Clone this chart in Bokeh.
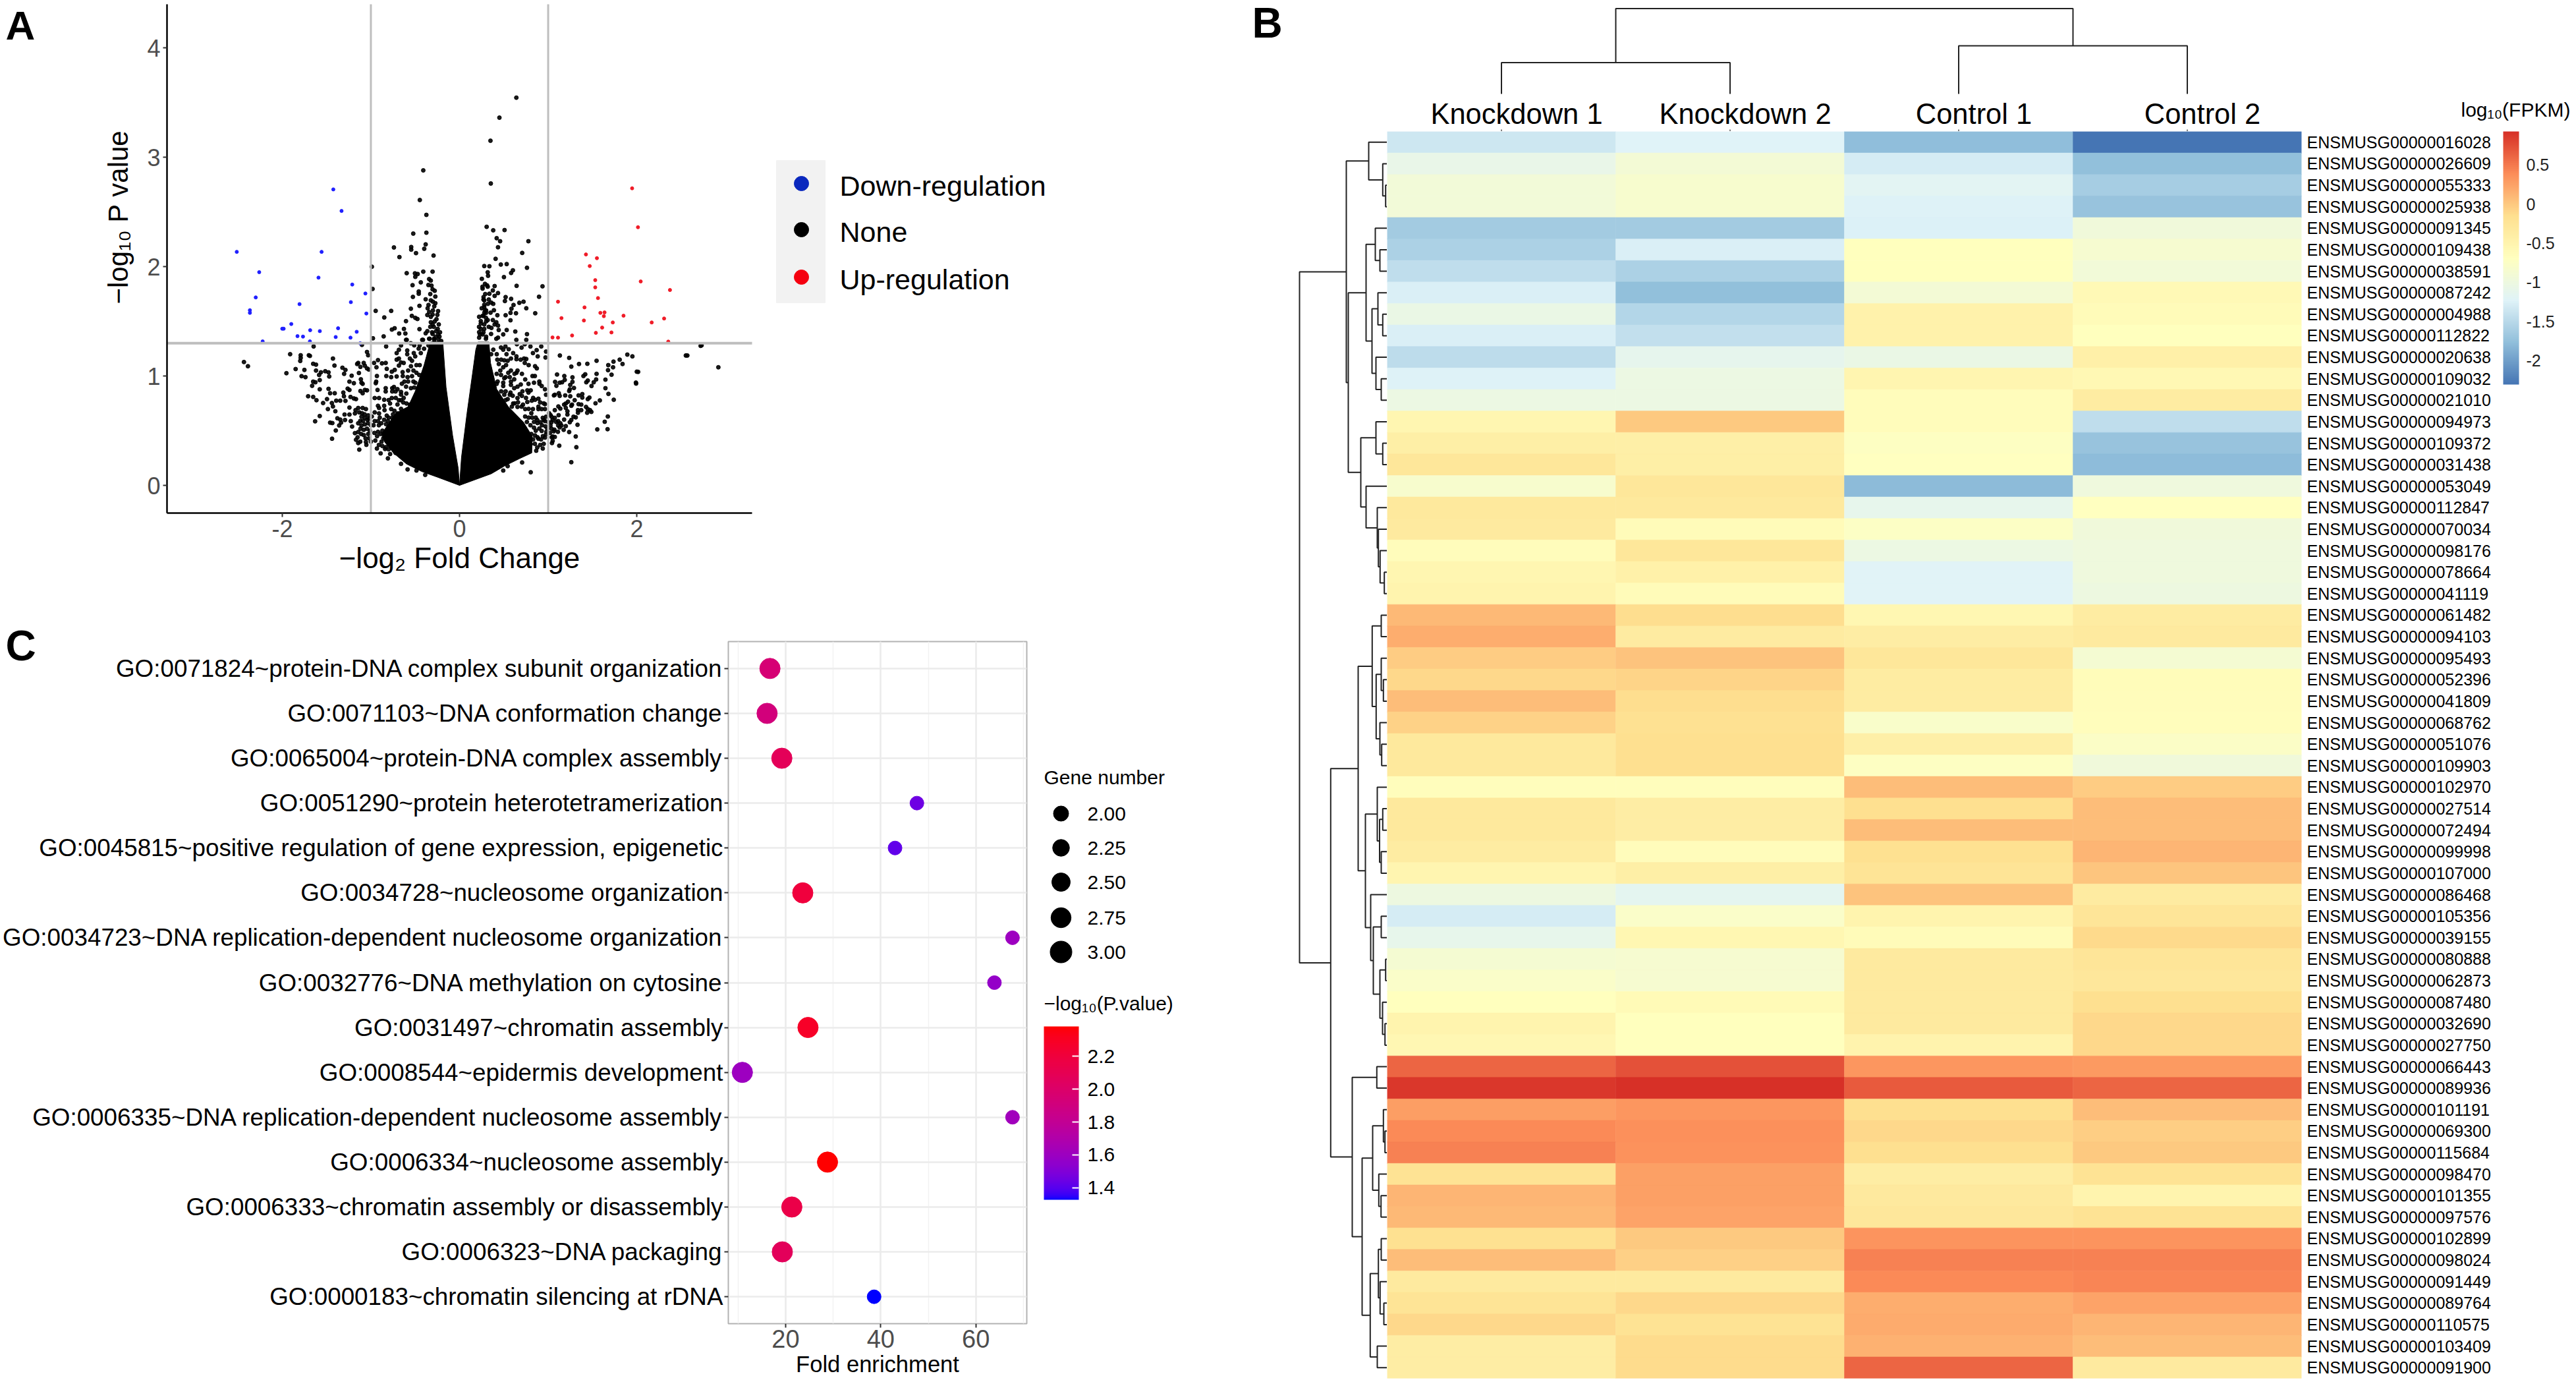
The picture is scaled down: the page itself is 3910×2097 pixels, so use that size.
import math
from bokeh.plotting import figure
from bokeh.layouts import row, column
from bokeh.models import (Range1d, FactorRange, Title, ColorBar, LinearColorMapper, FixedTicker,
                          SingleIntervalTicker, ColumnDataSource)
from bokeh.transform import linear_cmap
from bokeh.core.properties import value
from bokeh.embed import file_html
from bokeh.resources import INLINE

FONT = "Liberation Sans"

# ---------- Panel A: volcano ----------
down_points = [(-1.424,2.707),(-1.331,2.51),(-2.513,2.136),(-1.556,2.136),(-2.26,1.95),(-1.591,1.9),(-1.21,1.837),(-1.062,1.755),
 (-2.299,1.719),(-1.805,1.658),(-1.226,1.676),(-2.365,1.602),(-2.365,1.578),(-1.051,1.572),(-1.898,1.476),(-2.0,1.433),(-1.984,1.433),
 (-1.685,1.419),(-1.576,1.411),(-1.37,1.437),(-1.16,1.405),(-1.828,1.365),(-1.766,1.361),(-1.397,1.357),(-1.23,1.351),(-2.221,1.317),
 (-1.688,1.317),(-1.121,1.30)]
up_points = [(1.947,2.717),(2.013,2.361),(1.426,2.112),(1.55,2.078),(1.469,2.006),(1.531,1.877),(2.044,1.865),(1.531,1.811),(2.374,1.787),
 (1.562,1.713),(1.111,1.68),(1.41,1.628),(1.589,1.578),(1.636,1.582),(1.628,1.548),(1.85,1.552),(1.15,1.53),(1.403,1.508),(2.308,1.526),
 (2.168,1.49),(1.729,1.49),(1.609,1.443),(1.538,1.395),(1.714,1.399),(1.27,1.371),(1.049,1.353),(1.111,1.351),(2.355,1.315)]
none_upper = [(0.641,3.546),(0.45,3.363),(0.349,3.152),(-0.409,2.881),(0.353,2.761),(-0.448,2.61),(-0.374,2.474),(0.306,2.365),(0.38,2.333),
 (0.508,2.335),(-0.374,2.311),(-0.522,2.303),(0.419,2.261),(0.458,2.233),(0.777,2.233),(-0.382,2.204),(-0.74,2.176),(-0.545,2.18),(-0.545,2.156),
 (-0.398,2.164),(0.434,2.178),(-0.491,2.124),(0.707,2.126),(-0.293,2.102),(-0.678,2.088),(0.407,2.072),(-0.989,2.0),(0.279,2.006),(0.337,2.004),
 (0.466,2.02),(0.532,2.024),(0.761,1.99),(-0.596,1.941),(-0.503,1.939),(-0.472,1.933),(-0.409,1.955),(-0.304,1.955),(-0.499,1.907),(0.602,1.967),
 (0.582,1.943),(0.318,1.949),(0.322,1.917),(0.501,1.905),(0.252,1.889),(-0.343,1.887),(-0.437,1.857),(-0.324,1.873),(-0.53,1.831),(-0.351,1.833),
 (-0.316,1.827),(0.287,1.843),(0.259,1.817),(0.318,1.817),(0.396,1.823),(0.644,1.825),(0.936,1.821),(-0.981,1.797),(-0.304,1.793),(-0.46,1.773),
 (-0.46,1.753),(0.376,1.783),(0.337,1.753),(0.434,1.759),(0.396,1.733),(-0.526,1.724),(-0.273,1.727),(0.271,1.722),(0.52,1.722),(0.897,1.725),
 (-0.382,1.702),(-0.324,1.692),(0.582,1.706),(0.279,1.692),(0.512,1.686),(0.356,1.672),(0.675,1.67),(0.722,1.68),(-0.273,1.666),(-0.452,1.642),
 (-0.285,1.638),(0.279,1.652),(0.609,1.65),(0.279,1.632),(-0.549,1.616),(0.287,1.606),(0.586,1.616),(0.753,1.62),(-0.946,1.596),(-0.771,1.596),
 (-0.242,1.594),(-0.343,1.586),(0.388,1.602),(0.298,1.578),(0.637,1.574),(0.854,1.574),(0.575,1.578),(-0.363,1.558),(-0.304,1.562),(-0.324,1.542),
 (0.427,1.556),(0.52,1.556),(-0.538,1.55),(-0.849,1.536),(0.271,1.552),(0.221,1.542),(0.298,1.532),(-0.499,1.532),(-0.475,1.522),(-0.324,1.492),
 (-0.304,1.472),(-0.234,1.472),(0.24,1.502),(0.318,1.512),(0.376,1.512),(0.415,1.492),(0.396,1.472),(0.575,1.51),(-0.604,1.502),(0.279,1.472),
 (0.434,1.462),(-0.732,1.437),(-0.763,1.425),(-0.627,1.431),(-0.452,1.429),(-0.246,1.431),(-0.265,1.411),(-0.363,1.411),(0.24,1.431),(0.279,1.431),
 (0.442,1.421),(0.532,1.421),(0.629,1.407),(-0.681,1.389),(-0.611,1.389),(-0.382,1.391),(-0.304,1.385),(0.221,1.401),(0.259,1.381),(0.356,1.385),
 (0.493,1.381),(0.761,1.383),(-0.856,1.363),(-0.977,1.345),(-0.596,1.331),(-0.421,1.331),(-0.226,1.361),(-0.343,1.341),(-0.285,1.331),(0.221,1.351),
 (0.298,1.341),(0.415,1.341),(0.641,1.331),(0.753,1.331),(0.434,1.351),(-0.207,1.321),(2.72,1.276),(2.57,1.188),
 (-0.33,1.45),(-0.28,1.5),(-0.3,1.6),(-0.27,1.36),(-0.31,1.4),(-0.24,1.38),(-0.3,1.68),(-0.35,1.65),(-0.28,1.78),(-0.33,1.75),(-0.36,1.62),(-0.26,1.52),
 (-0.25,1.56),(-0.29,1.45),(-0.22,1.4),(0.22,1.45),(0.24,1.48),(0.26,1.55),(0.25,1.62),(0.27,1.7),(0.29,1.75),(0.3,1.6),(0.32,1.66),(0.28,1.58),(0.23,1.38),
 (0.27,1.4),(0.3,1.36),(0.33,1.45),(0.36,1.44),(0.26,1.8),(0.31,1.83),(0.3,1.5),(0.35,1.58),(0.33,1.7),(0.38,1.66)]
none_left = [(-2.432,1.128),(-2.387,1.09),(-1.911,1.2),(-1.953,1.026),(-1.849,1.064),(-1.792,1.19),(-1.792,1.166),(-1.797,1.138),(-1.7,1.19),(-1.688,1.184),
 (-1.646,1.271),(-1.75,1.056),(-1.782,0.999),(-1.738,0.99),(-1.651,1.112),(-1.619,1.104),(-1.619,1.05),(-1.584,1.01),(-1.564,1.034),(-1.515,1.044),
 (-1.478,1.034),(-1.47,0.996),(-1.428,1.16),(-1.411,1.096),(-1.321,1.076),(-1.287,1.056),(-1.302,1.02),(-1.217,1.003),(-1.242,0.949),(-1.192,0.935),
 (-1.651,0.949),(-1.626,0.943),(-1.663,0.911),(-1.577,0.963),(-1.577,0.879),(-1.478,0.883),(-1.46,0.843),(-1.408,0.843),(-1.311,0.849),(-1.262,0.885),
 (-1.242,0.873),(-1.708,0.815),(-1.651,0.809),(-1.614,0.779),(-1.539,0.753),(-1.495,0.789),(-1.44,0.753),(-1.428,0.722),(-1.391,0.775),(-1.346,0.775),
 (-1.287,0.773),(-1.304,0.815),(-1.23,0.809),(-1.192,0.795),(-1.168,0.789),(-1.485,0.698),(-1.401,0.678),(-1.242,0.712),(-1.577,0.634),(-1.629,0.586),
 (-1.297,0.648),(-1.242,0.648),(-1.378,0.614),(-1.346,0.602),(-1.292,0.598),(-1.46,0.574),(-1.435,0.57),(-1.358,0.548),(-1.336,0.574),(-1.396,0.502),
 (-1.438,0.427),(-1.227,0.588),(-1.212,0.538),(-1.173,0.688),(-1.143,0.708),(-1.093,0.708),(-1.056,0.698),(-1.18,0.658),(-1.131,0.668),(-1.068,0.618),
 (-1.106,0.628),(-1.143,0.568),(-1.106,0.548),(-1.068,0.558),(-1.031,0.568),(-1.118,0.518),(-1.081,0.508),(-1.044,0.518),(-1.18,0.478),(-1.143,0.488),
 (-1.168,0.417),(-1.143,0.387),(-1.056,0.397),(-1.051,0.371),(-1.131,0.327),(-1.143,1.12),(-1.155,1.11),(-1.081,1.12),(-1.068,1.094),(-1.044,1.07),
 (-1.118,1.084),(-1.024,1.06),(-1.135,1.028),(-1.101,1.285),(-1.044,1.22),(-1.031,1.19),(-1.106,0.939),(-1.093,0.929),(-1.113,0.97),(-1.118,0.863),
 (-1.068,0.873),(-1.044,0.869),(-1.093,0.843),(-0.964,1.12),(-0.92,1.146),(-0.937,1.08),(-0.875,1.116),(-0.833,1.12),(-0.828,1.271),(-0.821,1.066),
 (-0.932,1.0),(-0.826,1.0),(-0.771,0.99),(-0.709,0.996),(-0.764,1.04),(-0.731,1.056),(-0.709,1.15),(-0.684,1.16),(-0.709,1.21),(-0.684,1.24),(-0.684,1.096),
 (-0.66,1.124),(-0.642,1.036),(-0.94,0.949),(-0.945,0.935),(-0.925,0.873),(-0.833,0.889),(-0.833,0.859),(-0.759,0.889),(-0.759,0.859),(-0.722,0.859),
 (-0.66,0.855),(-0.957,0.799),(-0.908,0.799),(-0.85,0.783),(-0.764,0.799),(-0.684,0.779),(-0.66,0.779),(-0.92,0.728),(-0.908,0.708),(-0.85,0.728),
 (-0.784,0.749),(-0.846,0.688),(-0.771,0.698),(-0.734,0.682),(-0.957,0.668),(-0.908,0.658),(-0.821,0.638),(-0.759,0.618),(-0.697,0.658),(-0.635,0.759),
 (-0.598,0.749),(-0.56,0.739),(-0.957,0.588),(-0.92,0.588),(-0.883,0.568),(-0.808,0.588),(-0.734,0.578),(-0.932,0.337),(-0.89,0.293),(-0.84,0.333),(-0.808,0.247),
 (-0.783,0.287),(-0.722,0.297),(-0.66,0.197),(-0.586,0.146),(-0.486,0.136),(-0.387,0.096),(-0.622,0.949),(-0.603,0.903),(-0.548,0.889),(-0.511,0.895),
 (-0.499,0.939),(-0.536,0.999),(-0.486,1.03),(-0.454,1.01),(-0.586,0.99),(-0.548,1.09),(-0.486,1.1),(-0.449,1.1),(-0.56,1.16),(-0.536,1.14),(-0.59,1.234),
 (-0.59,1.2),(-0.516,1.21),(-0.603,1.331),(-0.461,1.251),(-0.437,1.21),(-0.511,1.281),(-0.412,1.331),(-0.337,1.341),(-0.288,1.341),(-0.238,1.337),
 (-1.1,0.66),(-1.07,0.65),(-1.03,0.64),(-1.02,0.61),(-1.09,0.59),(-1.12,0.59),(-1.04,0.6),(-1.0,0.55),(-1.01,0.5),(-1.03,0.47),(-1.08,0.46),(-1.11,0.47),(-1.02,0.43),
 (-1.06,0.43),(-1.15,0.44),(-1.12,0.4),(-1.0,0.4),(-0.99,0.63),(-0.97,0.55),(-0.96,0.48),(-0.95,0.41),(-0.93,0.45),(-0.92,0.49),(-0.91,0.55),(-0.9,0.62),(-0.89,0.47),
 (-0.87,0.5),(-0.86,0.43),(-0.88,0.4),(-0.85,0.6),(-0.83,0.56),(-0.82,0.5),(-0.8,0.62),(-0.79,0.55),(-0.78,0.48),(-0.76,0.56),(-0.75,0.65),(-0.74,0.61),(-0.91,0.37),
 (-0.87,0.36),(-0.83,0.35),(-0.8,0.33),(-0.77,0.37),(-0.69,0.62),(-0.66,0.7),(-0.7,0.74),(-0.63,0.8),(-0.6,0.84),(-0.58,0.95),(-0.52,0.95),(-0.55,0.7),(-0.66,0.83),
 (-0.72,0.8),(-0.8,0.78),(-0.74,0.9),(-0.7,0.88),(-0.65,0.93),(-0.64,1.0),(-0.58,1.05),(-0.52,1.05),(-0.63,1.12),(-0.5,1.18),(-0.45,1.28),(-0.4,1.25),(-0.35,1.28),
 (-0.66,1.28),(-0.55,1.3)]
none_right = [(2.553,1.188),(2.731,1.281),(1.893,1.196),(1.95,1.18),(1.807,1.15),(1.839,1.11),(1.737,1.132),(1.678,1.1),(1.732,1.08),(1.675,1.054),(1.715,1.012),
 (2.015,1.038),(1.992,0.931),(1.646,0.967),(1.646,0.889),(1.68,0.837),(1.74,0.783),(1.583,0.777),(1.534,0.751),(1.546,1.02),(1.541,0.969),(1.514,0.943),
 (1.489,0.909),(1.546,1.14),(1.442,1.112),(1.348,1.11),(1.237,1.166),(1.132,1.188),(1.261,1.086),(1.398,1.0),(1.418,1.016),(1.43,0.943),(1.447,0.959),
 (1.274,0.988),(1.182,1.0),(1.187,0.965),(1.157,0.943),(1.1,1.014),(1.078,0.947),(1.093,0.911),(1.13,0.939),(1.274,0.947),(1.249,0.919),(1.244,0.879),
 (1.237,0.863),(1.291,0.891),(1.065,0.823),(1.075,0.829),(1.12,0.843),(1.13,0.819),(1.192,0.823),(1.249,0.815),(1.343,0.823),(1.385,0.835),(1.385,0.803),
 (1.447,0.789),(1.465,0.803),(1.299,0.779),(1.224,0.765),(1.199,0.749),(1.18,0.739),(1.269,0.739),(1.261,0.728),(1.343,0.743),(1.373,0.739),(1.115,0.722),
 (1.137,0.702),(1.075,0.688),(1.199,0.708),(1.217,0.678),(1.217,0.648),(1.336,0.688),(1.373,0.688),(1.336,0.664),(1.427,0.718),(1.447,0.698),(1.44,0.664),
 (1.472,0.688),(1.487,0.672),(1.286,0.628),(1.311,0.622),(1.673,0.63),(1.638,0.582),(1.67,0.514),(1.554,0.512),(1.118,0.642),(1.075,0.618),(1.038,0.628),
 (1.026,0.644),(1.18,0.602),(1.261,0.598),(1.244,0.578),(1.331,0.554),(1.038,0.578),(1.026,0.548),(1.038,0.518),(1.063,0.494),(1.113,0.588),(1.137,0.568),
 (1.113,0.548),(1.15,0.548),(1.175,0.508),(1.199,0.542),(1.237,0.488),(1.311,0.447),(1.318,0.349),(1.261,0.212),(1.125,0.363),(1.051,0.447),(1.075,0.443),
 (1.051,0.407),(1.043,0.387),(0.803,0.12),(0.706,0.21),(0.976,0.829),(0.922,1.271),(0.976,1.224),(0.882,1.18),(0.87,1.237),(0.828,1.21),(0.964,0.879),
 (0.902,0.929),(0.927,0.909),(0.852,1.09),(0.872,1.07),(0.823,1.0),(0.84,0.939),(0.778,0.929),(0.741,0.969),(0.704,1.02),(0.654,1.05),(0.642,1.03),(0.728,1.16),
 (0.753,1.156),(0.736,1.12),(0.642,1.18),(0.642,1.154),(0.605,1.21),(0.58,1.16),(0.543,1.14),(0.505,1.144),(0.493,1.08),(0.525,1.1),(0.443,1.11),(0.426,1.15),
 (0.555,1.245),(0.518,1.271),(0.468,1.261),(0.493,1.241),(0.647,1.291),(0.736,1.291),(0.55,1.03),(0.468,1.01),(0.505,0.98),(0.419,1.02),(0.567,0.99),(0.617,0.97),
 (0.493,0.939),(0.493,0.909),(0.419,0.929),(0.58,0.949),(0.58,0.919),(0.617,0.889),(0.654,0.903),(0.691,0.923),(0.765,0.869),(0.803,0.869),(0.778,0.849),
 (0.575,0.849),(0.567,0.829),(0.679,0.835),(0.704,0.819),(0.654,0.799),(0.505,0.829),(0.468,0.779),(0.543,0.789),(0.765,0.763),
 (0.815,0.775),(0.852,0.783),(0.89,0.793),(0.909,0.759),(0.964,0.743),(0.605,0.749),(0.654,0.718),(0.716,0.739),(0.741,0.698),(0.828,0.698),(0.89,0.698),
 (0.927,0.698),(0.964,0.698),(0.939,0.618),(0.976,0.628),(0.964,0.588),(0.877,0.598),(0.914,0.578),(0.84,0.528),(0.927,0.498),(0.976,0.467),(0.964,0.437),(0.852,0.457),(0.89,0.427),
 (0.939,0.337),(0.877,0.347),(0.865,0.317),(0.803,0.377),(0.778,0.427),(0.728,0.357),(0.543,0.176),(0.493,0.136),(0.282,1.16),(0.357,1.2),(0.381,1.241),(2.92,1.08),(1.99,0.94),(2.0,1.04),
 (1.01,0.66),(1.0,0.58),(0.99,0.52),(1.02,0.48),(1.05,0.6),(1.09,0.58),(1.13,0.53),(1.07,0.51),(1.11,0.49),(1.04,0.44),(0.98,0.49),(0.97,0.54),(0.95,0.6),(0.93,0.55),(0.9,0.52),
 (0.88,0.57),(0.86,0.5),(0.84,0.58),(0.82,0.62),(0.8,0.55),(0.78,0.62),(0.76,0.58),(0.74,0.63),(0.92,0.42),(0.95,0.38),(0.91,0.37),(0.85,0.38),(0.83,0.42),(0.81,0.47),(0.88,0.44),
 (0.94,0.45),(0.86,0.62),(0.81,0.66),(0.78,0.7),(0.7,0.72),(0.62,0.75),(0.59,0.72),(0.52,0.78),(0.6,0.82),(0.52,0.86),(0.47,0.86),(0.43,0.95),(0.52,0.99),(0.46,1.05),(0.58,1.05),
 (0.62,1.02),(0.42,1.2),(0.47,1.15),(0.53,1.2),(0.69,1.15),(0.7,1.26),(0.8,1.27),(0.78,1.1),(0.85,1.0),(0.9,0.95),(0.83,0.8),(0.71,0.86),(0.75,0.8),(0.66,0.76),(0.95,0.75),(0.89,0.72),(0.97,1.17)]
# outlines of the two arms where the points merge into solid black
core_left_x = [0,-0.251,-0.424,-0.598,-0.746,-0.845,-0.88,-0.72,-0.58,-0.5,-0.4,-0.33,-0.189,-0.152,-0.078,-0.015]
core_left_y = [0,0.076,0.126,0.196,0.297,0.397,0.47,0.66,0.72,0.86,1.1,1.311,1.321,0.899,0.457,0.157]
core_right_x = [0,0.022,0.084,0.146,0.183,0.208,0.332,0.35,0.42,0.55,0.72,0.82,0.815,0.679,0.505,0.357]
core_right_y = [0,0.257,0.658,1.02,1.24,1.311,1.311,1.12,0.88,0.72,0.58,0.45,0.297,0.246,0.176,0.106]
legend_a = ["Down-regulation", "None", "Up-regulation"]
legend_a_colors = ["#0A28BE", "#000000", "#F5000F"]

# ---------- Panel C: GO dots ----------
go_terms = ["GO:0071824~protein-DNA complex subunit organization","GO:0071103~DNA conformation change","GO:0065004~protein-DNA complex assembly",
 "GO:0051290~protein heterotetramerization","GO:0045815~positive regulation of gene expression, epigenetic","GO:0034728~nucleosome organization",
 "GO:0034723~DNA replication-dependent nucleosome organization","GO:0032776~DNA methylation on cytosine","GO:0031497~chromatin assembly",
 "GO:0008544~epidermis development","GO:0006335~DNA replication-dependent nucleosome assembly","GO:0006334~nucleosome assembly",
 "GO:0006333~chromatin assembly or disassembly","GO:0006323~DNA packaging","GO:0000183~chromatin silencing at rDNA"]
fold_enrichment = [16.7,16.1,19.2,47.6,43.0,23.6,67.7,63.9,24.7,10.9,67.7,28.8,21.3,19.3,38.6]
gene_number = [3,3,3,2,2,3,2,2,3,3,2,3,3,3,2]
neg_log_p = [1.95,1.92,2.08,1.45,1.42,2.2,1.6,1.57,2.28,1.6,1.62,2.38,2.15,2.07,1.33]
gene_levels = [2.0,2.25,2.5,2.75,3.0]
gene_level_labels = ["2.00","2.25","2.50","2.75","3.00"]
p_ticks = [1.4,1.6,1.8,2.0,2.2]
p_tick_labels = {1.4:"1.4",1.6:"1.6",1.8:"1.8",2.0:"2.0",2.2:"2.2"}

# ---------- Panel B: heatmap ----------
columns = ["Knockdown 1","Knockdown 2","Control 1","Control 2"]
gene_ids = ["ENSMUSG00000"+s for s in """016028 026609 055333 025938 091345 109438 038591 087242 004988 112822 020638 109032 021010 094973 109372 031438
053049 112847 070034 098176 078664 041119 061482 094103 095493 052396 041809 068762 051076 109903 102970 027514 072494 099998 107000 086468 105356 039155
080888 062873 087480 032690 027750 066443 089936 101191 069300 115684 098470 101355 097576 102899 098024 091449 089764 110575 103409 091900""".split()]
heat_rows = [[-1.35,-1.23,-1.77,-2.31],[-1.08,-0.9,-1.3,-1.76],[-0.92,-0.83,-1.18,-1.62],[-0.92,-0.84,-1.24,-1.72],[-1.65,-1.65,-1.25,-0.95],
 [-1.58,-1.27,-0.68,-0.85],[-1.45,-1.58,-0.68,-0.92],[-1.27,-1.76,-0.9,-0.58],[-1.05,-1.53,-0.45,-0.62],[-1.26,-1.43,-0.45,-0.68],[-1.47,-1.13,-1.05,-0.43],
 [-1.24,-1.03,-0.52,-0.57],[-1.03,-1.03,-0.64,-0.36],[-0.53,0.0,-0.65,-1.46],[-0.4,-0.42,-0.72,-1.72],[-0.27,-0.4,-0.7,-1.78],[-0.82,-0.26,-1.8,-0.97],
 [-0.3,-0.3,-1.12,-0.7],[-0.33,-0.62,-0.75,-0.95],[-0.65,-0.27,-1.03,-0.98],[-0.53,-0.44,-1.22,-0.97],[-0.49,-0.62,-1.22,-1.0],[0.1,-0.14,-0.55,-0.36],
 [0.18,-0.34,-0.38,-0.33],[-0.02,0.04,-0.27,-0.87],[-0.1,-0.08,-0.36,-0.63],[0.08,-0.14,-0.36,-0.65],[-0.06,-0.18,-0.8,-0.66],[-0.3,-0.15,-0.42,-0.76],
 [-0.3,-0.15,-0.72,-0.95],[-0.66,-0.66,0.07,-0.02],[-0.3,-0.38,-0.15,0.08],[-0.3,-0.38,0.08,0.08],[-0.35,-0.65,-0.16,0.12],[-0.52,-0.4,-0.22,0.02],
 [-1.0,-1.15,0.04,-0.34],[-1.3,-0.78,-0.5,-0.24],[-1.1,-0.55,-0.62,-0.12],[-0.87,-0.85,-0.33,-0.24],[-0.78,-0.85,-0.33,-0.28],[-0.68,-0.6,-0.33,-0.15],
 [-0.5,-0.68,-0.33,-0.1],[-0.56,-0.68,-0.48,-0.1],[0.62,0.74,0.33,0.3],[0.88,0.93,0.68,0.62],[0.28,0.33,-0.15,0.08],[0.4,0.37,-0.1,-0.04],[0.45,0.36,-0.15,0.0],
 [-0.2,0.26,-0.38,-0.2],[0.12,0.26,-0.32,-0.5],[0.1,0.24,-0.28,-0.2],[-0.17,0.0,0.34,0.34],[0.08,-0.05,0.45,0.45],[-0.33,-0.33,0.4,0.43],[-0.22,-0.1,0.18,0.24],
 [-0.1,-0.2,0.19,0.13],[-0.38,-0.13,0.15,0.08],[-0.38,-0.13,0.62,-0.33]]
heat_low, heat_high = -2.31, 0.93
heat_stops = ["#4575B4","#91BFDB","#E0F3F8","#FFFFBF","#FEE090","#FC8D59","#D73027"]
heat_ticks = [-2,-1.5,-1,-0.5,0,0.5]
heat_tick_labels = {-2:"-2",-1.5:"-1.5",-1:"-1",-0.5:"-0.5",0:"0",0.5:"0.5"}
# dendrograms: (merge height, child, child); ints are leaves
col_tree = (186.6,(104.4,0,1),(130.0,2,3))
row_tree = (133,
 (62,(28,1,(6.7,2,(2.3,3,4))),
  (59,(32,(18,5,(11,6,7)),(23,(14,8,(6.7,9,10)),(17,11,(9,12,13)))),
   (40,(17,14,(6.7,15,16)),(32,17,(15,18,(13.3,19,(10.7,20,(4.3,21,22))))))),),
 (85.7,
  (44,(22.7,(9,23,24),(16.7,(9,25,(5.7,26,27)),(11,28,(8.3,29,30)))),
   (33,(15,31,(11.5,(6.7,32,33),(9,34,35))),
    (25,36,(21,(9,37,38),(11,(2.3,39,40),(7,41,(3.3,42,43)))))),),
  (53,(15.7,44,45),
   (38,(22,(5.7,46,(3.3,47,48)),(12.7,49,(9.3,50,51))),
    (25.7,(13.3,(9,52,53),(10.7,54,(5,55,56))),(15,57,58))))))


def hex2rgb(h):
    return [int(h[i:i+2],16) for i in (1,3,5)]

def interp_palette(stops, n):
    out = []
    for k in range(n):
        t = k/(n-1)*(len(stops)-1)
        i = min(int(t), len(stops)-2)
        f = t-i
        a, b = hex2rgb(stops[i]), hex2rgb(stops[i+1])
        out.append("#%02X%02X%02X" % tuple(round(a[j]+(b[j]-a[j])*f) for j in range(3)))
    return out

def rgb2lab(c):
    r = [(v/255/12.92 if v/255 <= 0.04045 else ((v/255+0.055)/1.055)**2.4) for v in c]
    X = (0.4124*r[0]+0.3576*r[1]+0.1805*r[2])/0.95047
    Y = 0.2126*r[0]+0.7152*r[1]+0.0722*r[2]
    Z = (0.0193*r[0]+0.1192*r[1]+0.9505*r[2])/1.08883
    f = lambda t: t**(1/3) if t > 0.008856 else 7.787*t+16/116
    return 116*f(Y)-16, 500*(f(X)-f(Y)), 200*(f(Y)-f(Z))

def lab2hex(L, a, b):
    y = (L+16)/116; x = a/500+y; z = y-b/200
    g = lambda t: t**3 if t**3 > 0.008856 else (t-16/116)/7.787
    X, Y, Z = 0.95047*g(x), g(y), 1.08883*g(z)
    lin = [3.2406*X-1.5372*Y-0.4986*Z, -0.9689*X+1.8758*Y+0.0415*Z, 0.0557*X-0.2040*Y+1.0570*Z]
    s = [(12.92*v if v <= 0.0031308 else 1.055*max(v,0)**(1/2.4)-0.055) for v in lin]
    return "#%02X%02X%02X" % tuple(min(255,max(0,round(v*255))) for v in s)

def lab_palette(lo, hi, n):
    A, B = rgb2lab(hex2rgb(lo)), rgb2lab(hex2rgb(hi))
    return [lab2hex(*[A[j]+(B[j]-A[j])*k/(n-1) for j in range(3)]) for k in range(n)]

def dendro(node, leaf_pos, base, xs, ys):
    if not isinstance(node, tuple):
        return leaf_pos(node), base
    h, a, b = node
    pa, ha = dendro(a, leaf_pos, base, xs, ys)
    pb, hb = dendro(b, leaf_pos, base, xs, ys)
    xs.append([pa,pa,pb,pb]); ys.append([ha,h,h,hb])
    return (pa+pb)/2, h

def fig(w, h, fw, fh, l, r, t, b, x_range, y_range, **kw):
    p = figure(width=w, height=h, frame_width=fw, frame_height=fh, min_border_left=l, min_border_right=r,
               min_border_top=t, min_border_bottom=b, x_range=x_range, y_range=y_range,
               toolbar_location=None, output_backend="svg", tools="", **kw)
    p.grid.visible = False
    p.outline_line_color = None
    return p

def free_text(p, text, offset, drop, size, bold=False, place="above"):
    """Real text outside the frame: a Title shifted `offset` px from the frame's left, `drop` px below its top."""
    p.add_layout(Title(text=text, align="left", offset=offset, standoff=-2*drop, text_font=FONT, text_font_size=size,
                       text_font_style="bold" if bold else "normal", text_color="black", text_alpha=1,
                       text_line_height=1.0), place)

# ---------- A ----------
XA, YA = (-3.30,3.30), (-0.253,4.40)
pa = fig(1160, 925, 888, 772, 253, 19, 6, 147, Range1d(*XA), Range1d(*YA))
pa.patch(core_left_x, core_left_y, color="black")
pa.patch(core_right_x, core_right_y, color="black")
none_all = none_upper+none_left+none_right
pa.scatter([q[0] for q in none_all],[q[1] for q in none_all], size=6, color="black", alpha=0.9)
pa.scatter([q[0] for q in down_points],[q[1] for q in down_points], size=5, color="#2020FF")
pa.scatter([q[0] for q in up_points],[q[1] for q in up_points], size=5, color="#F01C28")
pa.ray(x=[-1,1],y=[YA[0]]*2,length=0,angle=math.pi/2,line_color="#BEBEBE",line_width=3)
pa.ray(x=[XA[0]],y=[1.301],length=0,angle=0,line_color="#BEBEBE",line_width=4)
pa.xaxis.ticker = [-2,0,2]; pa.yaxis.ticker = [0,1,2,3,4]
pa.xaxis.major_label_overrides = {-2:"-2",0:"0",2:"2"}
for ax in (pa.xaxis[0], pa.yaxis[0]):
    ax.axis_line_color="black"; ax.axis_line_width=2.5
    ax.major_tick_line_color="#333333"; ax.major_tick_line_width=2; ax.major_tick_in=0; ax.major_tick_out=6
    ax.minor_tick_line_color=None
    ax.major_label_text_font=FONT; ax.major_label_text_font_size="36px"; ax.major_label_text_color="#4D4D4D"
    ax.major_label_standoff=4
pa.xaxis.axis_label="\u2212log\u2082 Fold Change"
pa.xaxis.axis_label_text_font=FONT; pa.xaxis.axis_label_text_font_size="44px"
pa.xaxis.axis_label_text_font_style="normal"; pa.xaxis.axis_label_text_color="black"; pa.xaxis.axis_label_standoff=4
pa.add_layout(Title(text="\u2212log\u2081\u2080 P value", align="left", offset=317, standoff=36, text_font=FONT, text_font_size="42px",
                    text_font_style="normal", text_color="black"), "left")
free_text(pa, "A", 8-253, 66, "62px", bold=True)

ka = fig(730, 925, 730, 772, 0, 0, 6, 147, Range1d(1160,1890), Range1d(778,6))
ka.axis.visible = False
ka.quad(left=[1178],right=[1252],top=[243],bottom=[459],color="#F2F2F2")
ka.scatter([1216]*3,[278,348,420],size=22,color=legend_a_colors)
ka.text([1274]*3,[281,351,423],text=legend_a,text_font=value(FONT),text_font_size="43px",text_baseline="middle",text_color="black")

# ---------- C ----------
XC, YC = (7.95,70.7), (-0.1,15.1)
pc = fig(1565, 1170, 453, 1035, 1105, 7, 48, 87, Range1d(*XC),
         FactorRange(factors=go_terms[::-1], range_padding=0.2/15))
sizes = [21+(g-2)*10 for g in gene_number]
p_low, p_high = 1.327, 2.382
p_palette = lab_palette("#0000FF","#FF0000",256)
pc.scatter(fold_enrichment, go_terms, size=sizes,
           color=[p_palette[min(255,int((v-p_low)/(p_high-p_low)*256))] for v in neg_log_p])
pc.outline_line_color="#B3B3B3"; pc.outline_line_width=2
pc.grid.visible=True
pc.xaxis.ticker = SingleIntervalTicker(interval=20,num_minor_ticks=2)
pc.xgrid.grid_line_color="#EBEBEB"; pc.xgrid.grid_line_width=2.5
pc.xgrid.minor_grid_line_color="#F2F2F2"; pc.xgrid.minor_grid_line_width=1.5
pc.ygrid.grid_line_color="#EBEBEB"; pc.ygrid.grid_line_width=2.5
for ax in (pc.xaxis[0], pc.yaxis[0]):
    ax.axis_line_color=None
    ax.major_tick_line_color="#333333"; ax.major_tick_line_width=2; ax.major_tick_in=0; ax.major_tick_out=6
    ax.minor_tick_line_color=None
    ax.major_label_text_font=FONT
pc.yaxis.major_label_text_font_size="36.8px"; pc.yaxis.major_label_text_color="black"; pc.yaxis.major_label_standoff=2
pc.xaxis.major_label_text_font_size="38px"; pc.xaxis.major_label_text_color="#4D4D4D"; pc.xaxis.major_label_standoff=3
pc.xaxis.axis_label="Fold enrichment"; pc.xaxis.axis_label_text_font=FONT; pc.xaxis.axis_label_text_font_size="34.6px"
pc.xaxis.axis_label_text_font_style="normal"; pc.xaxis.axis_label_text_color="black"; pc.xaxis.axis_label_standoff=3
free_text(pc, "C", 8-1105, 42, "64px", bold=True)

kc = fig(325, 1170, 325, 1035, 0, 0, 48, 87, Range1d(1565,1890), Range1d(2008,973))
kc.axis.visible=False
kc.text([1584],[1179],text=["Gene number"],text_font=value(FONT),text_font_size="30px",text_baseline="middle",text_color="black")
gy = [1234,1286,1338,1392,1444]
kc.scatter([1610]*5,gy,size=[23+(g-2)*10 for g in gene_levels],color="black")
kc.text([1650]*5,gy,text=gene_level_labels,text_font=value(FONT),text_font_size="30px",text_baseline="middle",text_color="black")
kc.text([1584],[1522],text=["\u2212log\u2081\u2080(P.value)"],text_font=value(FONT),text_font_size="30px",text_baseline="middle",text_color="black")
cb_c = ColorBar(color_mapper=LinearColorMapper(palette=p_palette,low=p_low,high=p_high), ticker=FixedTicker(ticks=p_ticks),
                major_label_overrides=p_tick_labels,
                width=53,height=263,padding=0,margin=0,location=(19,188),
                major_tick_line_color="white",major_tick_line_width=2,major_tick_in=10,major_tick_out=0,
                minor_tick_line_color=None,bar_line_color=None,background_fill_alpha=0,border_line_color=None,
                label_standoff=13,major_label_text_font=FONT,major_label_text_font_size="30px",major_label_text_color="black")
kc.add_layout(cb_c)

# ---------- B ----------
XT, YT = (0,4), (0,191)
pt = fig(2018, 199, 1388, 191, 215, 415, 8, 0, Range1d(*XT), Range1d(*YT))
pt.axis.visible=False
xs, ys = [], []
dendro(col_tree, lambda i: i+0.5, 57, xs, ys)
pt.multi_line(xs, ys, line_color="#222222", line_width=2)
pt.segment(x0=[i+0.5 for i in range(4)], y0=[0]*4, x1=[i+0.5 for i in range(4)], y1=[3]*4, line_color="#555555", line_width=1.5)
pt.text([i+0.5 for i in range(4)],[27]*4,text=columns,x_offset=23,text_align="center",text_baseline="middle",
        text_font=value(FONT),text_font_size="43.5px",text_color="black")
free_text(pt, "B", 1900-2105, 62, "64px", bold=True)
free_text(pt, "log\u2081\u2080(FPKM)", 1630, 174, "30px")

pl = fig(215, 1896, 140, 1892, 75, 0, 0, 4, Range1d(140,0), Range1d(58,0))
pl.axis.visible=False
xs, ys = [], []
dendro(row_tree, lambda i: i-0.5, 0, ys, xs)
pl.multi_line(xs, ys, line_color="#222222", line_width=2)

heat_palette = interp_palette(heat_stops, 256)
pm = fig(1803, 1896, 1388, 1892, 0, 415, 0, 4, FactorRange(factors=columns), FactorRange(factors=gene_ids[::-1]), y_axis_location="right")
hx, hy, hv = [], [], []
for g, vals in zip(gene_ids, heat_rows):
    for c, v in zip(columns, vals):
        hx.append(c); hy.append(g); hv.append(v)
src = ColumnDataSource(dict(x=hx,y=hy,v=hv))
cm = linear_cmap("v", heat_palette, heat_low, heat_high)
pm.rect(x="x", y="y", width=1, height=1, source=src, dilate=True, line_color=cm, line_width=0.5, fill_color=cm)
pm.xaxis.visible=False
ry = pm.yaxis[0]
ry.axis_line_color=None; ry.major_tick_line_color=None; ry.minor_tick_line_color=None
ry.major_label_standoff=2; ry.major_label_text_font=FONT; ry.major_label_text_font_size="25px"; ry.major_label_text_color="black"
cb_h = ColorBar(color_mapper=LinearColorMapper(palette=heat_palette,low=heat_low,high=heat_high), ticker=FixedTicker(ticks=heat_ticks),
                major_label_overrides=heat_tick_labels,width=24,height=384,padding=0,margin=0,location=(3799-2105,2091-583),
                major_tick_line_color=None,minor_tick_line_color=None,bar_line_color=None,background_fill_alpha=0,border_line_color=None,
                label_standoff=11,major_label_text_font=FONT,major_label_text_font_size="25px",major_label_text_color="#222222")
pm.add_layout(cb_h)

layout = row(column(row(pa,ka), row(pc,kc)), column(pt, row(pl,pm)))
open("out.html","w").write(file_html(layout, INLINE))
